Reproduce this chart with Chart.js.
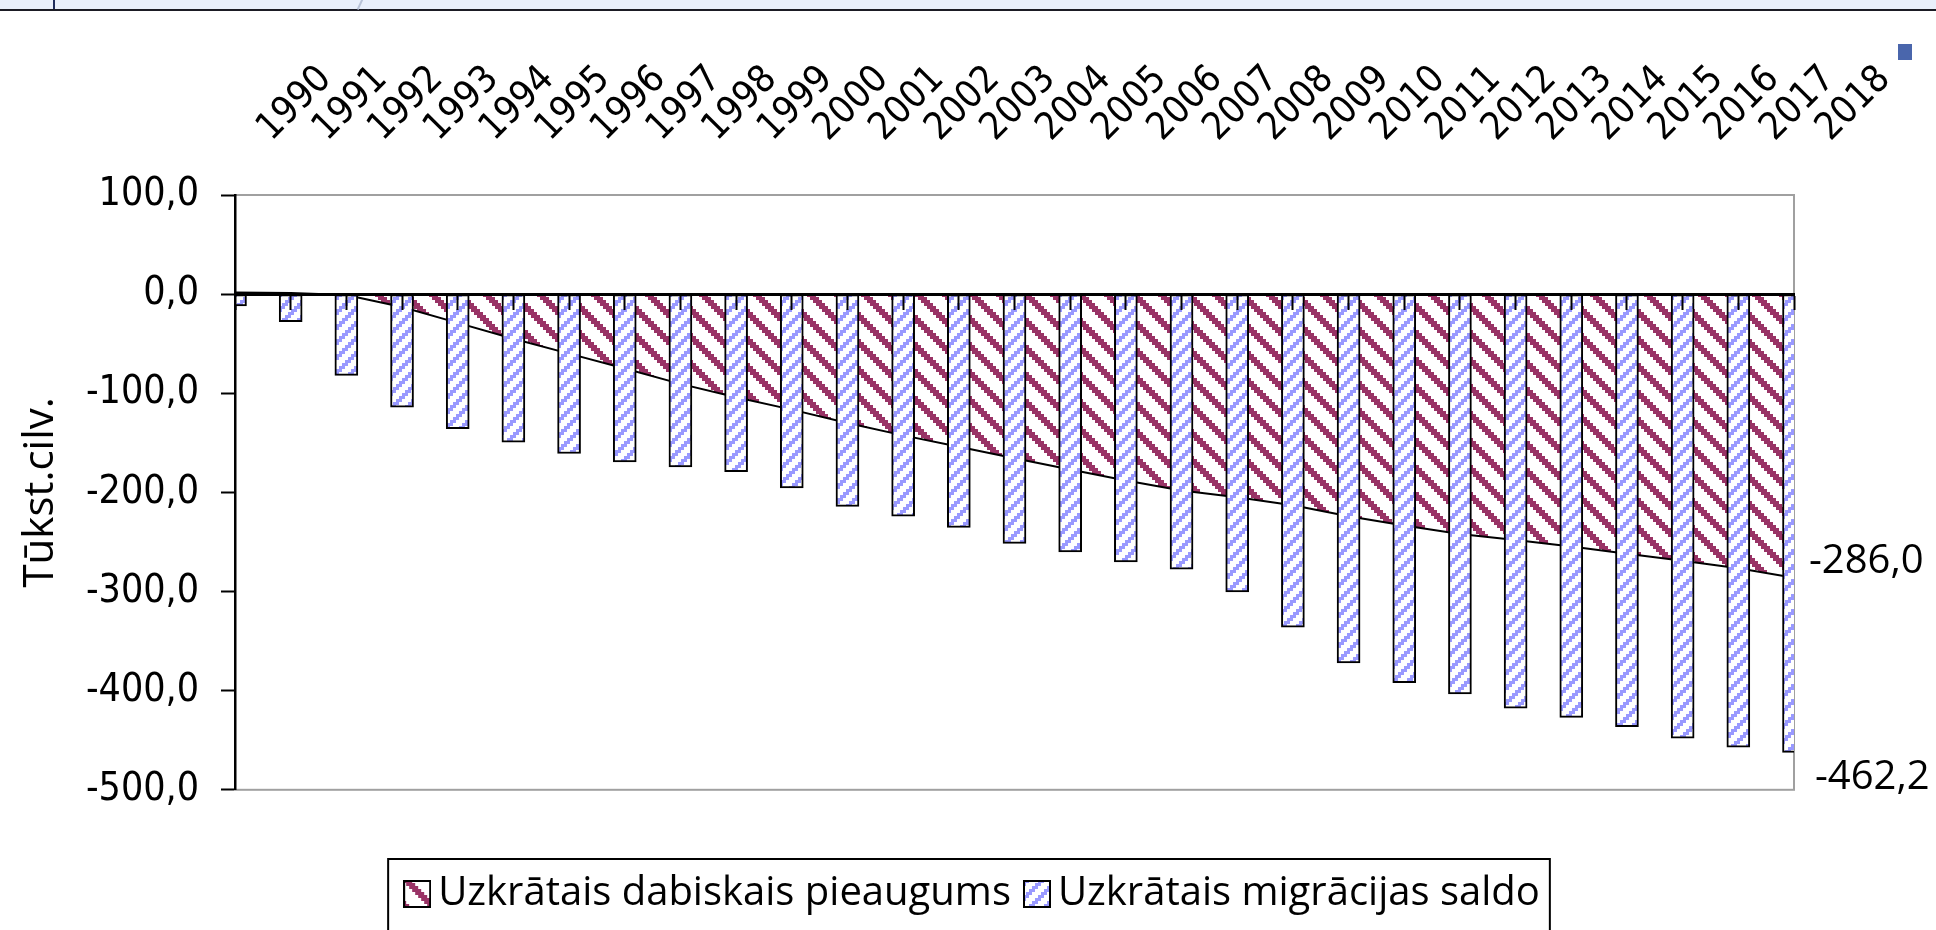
<!DOCTYPE html>
<html>
<head>
<meta charset="utf-8">
<script src="https://cdn.jsdelivr.net/npm/chart.js@4.4.1/dist/chart.umd.min.js"></script>
<style>
  html, body { margin: 0; padding: 0; background: #fff; }
  #wrap { position: relative; width: 1936px; height: 930px; overflow: hidden; background: #fff; }
  #c { position: absolute; left: 0; top: 0; }
  .band { position: absolute; left: 0; top: 0; width: 1936px; height: 9px; background: #e9effb; border-bottom: 2px solid #1b1b24; }
  .vline { position: absolute; left: 53px; top: 0; width: 2px; height: 9px; background: #1f2c5c; }
  .slash { position: absolute; left: 359px; top: -1px; width: 2px; height: 11px; background: #b9c3d8; transform: rotate(25deg); }
  .sq { position: absolute; left: 1898px; top: 44px; width: 14px; height: 16px; background: #4a66ac; }
</style>
</head>
<body>
<div id="wrap">
  <canvas id="c" width="1936" height="930"></canvas>
  <div class="band"></div>
  <div class="vline"></div>
  <div class="slash"></div>
  <div class="sq"></div>
</div>
<script>
// Uzkrātais dabiskais pieaugums / migrācijas saldo, tūkst. cilv.
var years = ['1990', '1991', '1992', '1993', '1994', '1995', '1996', '1997', '1998', '1999',
  '2000', '2001', '2002', '2003', '2004', '2005', '2006', '2007', '2008', '2009',
  '2010', '2011', '2012', '2013', '2014', '2015', '2016', '2017', '2018'];

var naturalIncrease = [1.6, 1.2, -0.8, -13.0, -29.0, -45.0, -60.0, -75.0, -90.5, -104.0,
  -116.5, -130.0, -142.5, -154.0, -165.5, -177.0, -188.0, -198.0, -205.0, -213.0,
  -224.0, -233.5, -242.0, -248.0, -254.5, -262.0, -269.0, -276.5, -286.0];

var migration = [-11.8, -27.9, -81.9, -114.0, -135.6, -149.4, -160.8, -169.3, -174.2, -179.2,
  -195.4, -214.1, -224.1, -235.3, -251.4, -260.1, -270.1, -277.5, -300.5, -336.0,
  -372.1, -392.0, -403.2, -417.7, -427.0, -436.2, -447.9, -457.0, -462.2];

var yTickValues = [100, 0, -100, -200, -300, -400, -500];

var SERIES_NAMES = ['Uzkrātais dabiskais pieaugums', 'Uzkrātais migrācijas saldo'];
var MAROON = '#993366';
var LILAC = '#9999ff';
var TICK_FONT = "'DejaVu Sans Condensed', 'DejaVu Sans', sans-serif";
var TEXT_FONT = "'Open Sans', 'Noto Sans', sans-serif";

function fmtComma(v) {
  return v.toFixed(1).replace('.', ',');
}

var canvas = document.getElementById('c');
var ctx = canvas.getContext('2d');

// pixel-art hatch like the old Excel fill patterns
function hatchTile(color, cell, period, on, rising) {
  var tile = document.createElement('canvas');
  tile.width = tile.height = cell * period;
  var g = tile.getContext('2d');
  g.fillStyle = '#fff';
  g.fillRect(0, 0, tile.width, tile.height);
  g.fillStyle = color;
  for (var r = 0; r < period; r++) {
    for (var c = 0; c < period; c++) {
      var k = rising ? (c + r) % period : ((c - r) % period + period) % period;
      if (k < on) g.fillRect(c * cell, r * cell, cell, cell);
    }
  }
  return tile;
}

var maroonHatch = ctx.createPattern(hatchTile(MAROON, 3, 9, 3, false), 'repeat');
var lilacHatch = ctx.createPattern(hatchTile(LILAC, 3, 5, 2, true), 'repeat');

// small swatch used as the legend symbol (lets the text sit close to it)
function swatch(pattern) {
  var s = document.createElement('canvas');
  s.width = 28;
  s.height = 28;
  var g = s.getContext('2d');
  g.fillStyle = pattern;
  g.fillRect(0, 0, 28, 28);
  g.strokeStyle = '#000';
  g.lineWidth = 2;
  g.strokeRect(1, 1, 26, 26);
  return s;
}

// grey frame round the plot area, under the axes
var plotFrame = {
  id: 'plotFrame',
  beforeDraw: function(chart) {
    var a = chart.chartArea;
    var c = chart.ctx;
    c.save();
    c.strokeStyle = '#a0a0a0';
    c.lineWidth = 2;
    c.strokeRect(a.left, a.top, a.right - a.left, a.bottom - a.top);
    c.restore();
  }
};

// value labels on the last point of each series
var endLabels = {
  id: 'endLabels',
  afterDatasetsDraw: function(chart) {
    var c = chart.ctx;
    c.save();
    c.font = '40px ' + TEXT_FONT;
    c.fillStyle = '#000';
    c.textAlign = 'left';
    c.textBaseline = 'middle';
    chart.data.datasets.forEach(function(ds, i) {
      var meta = chart.getDatasetMeta(i);
      var el = meta.data[meta.data.length - 1];
      var v = ds.data[ds.data.length - 1];
      var dx = ds.type === 'bar' ? 21 : 15;
      var dy = ds.type === 'bar' ? 25 : -16;
      c.fillText(fmtComma(v), el.x + dx, el.y + dy);
    });
    c.restore();
  }
};

// border box round the legend
var legendBox = {
  id: 'legendBox',
  afterDraw: function(chart) {
    var boxes = chart.legend && chart.legend.legendHitBoxes;
    if (!boxes || !boxes.length) return;
    var left = Math.min.apply(null, boxes.map(function(b) { return b.left; })) - 28;
    var right = Math.max.apply(null, boxes.map(function(b) { return b.left + b.width; })) + 10;
    var top = boxes[0].top - 15;
    var c = chart.ctx;
    c.save();
    c.strokeStyle = '#000';
    c.lineWidth = 2;
    c.strokeRect(left, top, right - left, 960 - top);
    c.restore();
  }
};

new Chart(ctx, {
  data: {
    labels: years,
    datasets: [
      {
        type: 'line',
        label: SERIES_NAMES[0],
        data: naturalIncrease,
        fill: 'origin',
        backgroundColor: maroonHatch,
        borderColor: '#000',
        borderWidth: 2,
        pointRadius: 0,
        pointStyle: swatch(maroonHatch),
        tension: 0,
        clip: 0,
        order: 2
      },
      {
        type: 'bar',
        label: SERIES_NAMES[1],
        data: migration,
        backgroundColor: lilacHatch,
        borderColor: '#000',
        borderWidth: 2,
        borderSkipped: false,
        barThickness: 23,
        pointStyle: swatch(lilacHatch),
        clip: 0,
        order: 1
      }
    ]
  },
  options: {
    responsive: false,
    devicePixelRatio: 1,
    animation: false,
    layout: { padding: { left: 20, right: 0, top: 0, bottom: 6 } },
    plugins: {
      tooltip: { enabled: false },
      legend: {
        position: 'bottom',
        title: { display: true, text: '', font: { size: 1 }, padding: { top: 58, bottom: 0 } },
        labels: {
          color: '#000',
          font: { family: TEXT_FONT, size: 40 },
          usePointStyle: true,
          pointStyleWidth: 2,
          boxHeight: 28,
          padding: 25,
          sort: function(a, b) { return a.datasetIndex - b.datasetIndex; }
        }
      }
    },
    scales: {
      x: {
        type: 'category',
        position: 'top',
        offset: false,
        grid: { display: false, drawTicks: false },
        border: { display: false },
        ticks: {
          color: '#000',
          font: { family: TICK_FONT, size: 38 },
          autoSkip: false,
          minRotation: 45,
          maxRotation: 45,
          padding: 44,
          labelOffset: 61.5
        },
        afterFit: function(s) { s.height = 195; }
      },
      x2: {
        type: 'category',
        position: { y: 0 },
        offset: false,
        grid: { offset: false, drawOnChartArea: false, drawTicks: true, tickLength: 14, tickColor: '#000', tickWidth: 2, z: 1 },
        border: { color: '#000', width: 3, z: 1 },
        ticks: { display: false }
      },
      y: {
        type: 'linear',
        position: 'left',
        min: -500,
        max: 100,
        afterBuildTicks: function(s) {
          s.ticks = yTickValues.map(function(v) { return { value: v }; });
        },
        ticks: {
          color: '#000',
          font: { family: TICK_FONT, size: 39 },
          padding: 22,
          callback: function(v) { return fmtComma(v); }
        },
        grid: { drawOnChartArea: false, drawTicks: true, tickLength: 14, tickColor: '#000', tickWidth: 2 },
        border: { color: '#000', width: 2.5 },
        title: {
          display: true,
          text: 'Tūkst.cilv.',
          color: '#000',
          font: { family: TEXT_FONT, size: 42 },
          padding: { top: -4, bottom: 0 }
        },
        afterFit: function(s) { s.width = 215; }
      },
      // empty right-hand axis, only reserves the space right of the plot
      y2: {
        type: 'linear',
        position: 'right',
        min: -500,
        max: 100,
        grid: { display: false, drawTicks: false },
        border: { display: false },
        ticks: { display: false },
        afterFit: function(s) { s.width = 142; }
      }
    }
  },
  plugins: [plotFrame, endLabels, legendBox]
});
</script>
</body>
</html>
